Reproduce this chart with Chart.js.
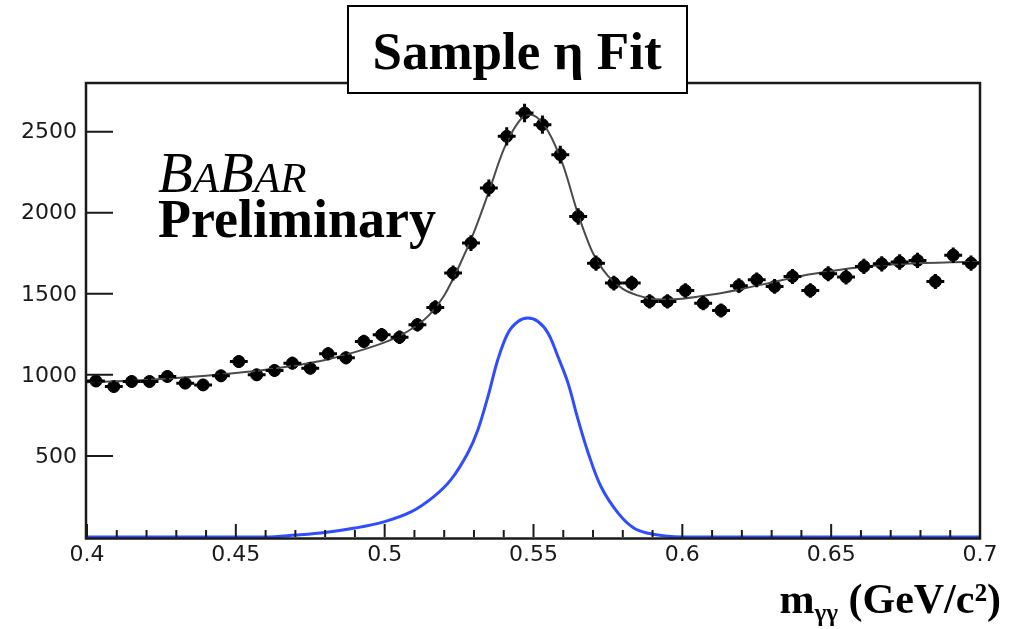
<!DOCTYPE html>
<html>
<head>
<meta charset="utf-8">
<script src="https://cdn.jsdelivr.net/npm/chart.js@4"></script>
<style>
  html, body { margin: 0; padding: 0; background: #fff; }
</style>
</head>
<body>
<canvas id="myChart" width="1011" height="629"></canvas>
<script>
// centros de los bins (anchura 0.006 GeV/c2)
const binCenters = [0.403, 0.409, 0.415, 0.421, 0.427, 0.433, 0.439, 0.445, 0.451, 0.457,
  0.463, 0.469, 0.475, 0.481, 0.487, 0.493, 0.499, 0.505, 0.511, 0.517,
  0.523, 0.529, 0.535, 0.541, 0.547, 0.553, 0.559, 0.565, 0.571, 0.577,
  0.583, 0.589, 0.595, 0.601, 0.607, 0.613, 0.619, 0.625, 0.631, 0.637,
  0.643, 0.649, 0.655, 0.661, 0.667, 0.673, 0.679, 0.685, 0.691, 0.697];
// entradas por bin
const counts = [962, 928, 959, 959, 990, 949, 938, 994, 1082, 1000,
  1027, 1072, 1041, 1130, 1105, 1206, 1247, 1232, 1309, 1416,
  1628, 1813, 2152, 2471, 2615, 2543, 2358, 1977, 1689, 1566,
  1566, 1453, 1453, 1520, 1442, 1397, 1550, 1586, 1545, 1607,
  1520, 1623, 1603, 1669, 1685, 1696, 1706, 1576, 1738, 1689];
const binHalf = 0.003;

// curva del ajuste total (gris)
const fitX = [0.400, 0.410, 0.420, 0.430, 0.440, 0.450, 0.460, 0.470, 0.480, 0.490,
  0.500, 0.505, 0.510, 0.515, 0.520, 0.525, 0.530, 0.535, 0.540, 0.545,
  0.548, 0.551, 0.555, 0.560, 0.565, 0.570, 0.575, 0.580, 0.585, 0.590,
  0.595, 0.600, 0.610, 0.620, 0.630, 0.640, 0.650, 0.660, 0.670, 0.680,
  0.690, 0.700];
const fitY = [955, 960, 968, 980, 995, 1012, 1032, 1058, 1092, 1140,
  1200, 1240, 1295, 1370, 1490, 1670, 1880, 2130, 2390, 2560,
  2605, 2590, 2500, 2290, 1990, 1750, 1610, 1530, 1490, 1468,
  1465, 1470, 1495, 1530, 1570, 1610, 1640, 1665, 1680, 1690,
  1694, 1696];

// componente de senal (azul)
const sigX = [0.400, 0.460, 0.470, 0.480, 0.490, 0.500, 0.509, 0.5165, 0.5222, 0.5279,
  0.5313, 0.5347, 0.538, 0.5414, 0.5448, 0.5481, 0.5515, 0.5549, 0.5582, 0.5616,
  0.565, 0.5684, 0.5727, 0.5785, 0.5838, 0.5886, 0.595, 0.600, 0.700];
const sigY = [0, 0, 12, 28, 55, 95, 156, 249, 352, 517,
  660, 866, 1093, 1257, 1329, 1350, 1329, 1257, 1113, 949,
  722, 517, 310, 146, 54, 23, 5, 0, 0];

const xTickLabels = ['0.4', '0.45', '0.5', '0.55', '0.6', '0.65', '0.7'];
const yTickValues = [500, 1000, 1500, 2000, 2500];

const toPts = (xs, ys) => xs.map((v, i) => ({ x: v, y: ys[i] }));
const tickFont = '22px "DejaVu Sans"';

// dibuja marco, marcas de los ejes, barras de error y textos
const decor = {
  id: 'decor',
  afterDatasetsDraw(chart) {
    const { ctx, scales: { x, y }, chartArea } = chart;
    ctx.save();
    ctx.strokeStyle = '#000';
    ctx.lineWidth = 3;
    binCenters.forEach((c, i) => {
      const px = x.getPixelForValue(c);
      const py = y.getPixelForValue(counts[i]);
      const e = Math.sqrt(counts[i]);
      ctx.beginPath();
      ctx.moveTo(Math.max(x.getPixelForValue(c - binHalf), chartArea.left), py);
      ctx.lineTo(x.getPixelForValue(c + binHalf), py);
      ctx.moveTo(px, y.getPixelForValue(counts[i] + e) - 1);
      ctx.lineTo(px, y.getPixelForValue(counts[i] - e) + 1);
      ctx.stroke();
    });
    ctx.restore();
  },
  afterDraw(chart) {
    const { ctx, scales: { x, y }, chartArea: a } = chart;
    ctx.save();
    // marco
    ctx.strokeStyle = '#1a1a1a';
    ctx.lineWidth = 2.5;
    ctx.strokeRect(a.left - 1, a.top, a.right - a.left + 1, a.bottom - a.top + 1.5);
    // marcas eje x
    ctx.lineWidth = 2;
    ctx.beginPath();
    for (let i = 0; i <= 30; i++) {
      const px = x.getPixelForValue(0.4 + i * 0.01);
      const len = i % 5 === 0 ? 13 : 7;
      ctx.moveTo(px, a.bottom);
      ctx.lineTo(px, a.bottom - len);
    }
    // marcas eje y
    yTickValues.forEach(v => {
      const py = y.getPixelForValue(v);
      ctx.moveTo(a.left, py);
      ctx.lineTo(a.left + 26, py);
    });
    ctx.stroke();
    // etiquetas eje y
    ctx.fillStyle = '#1a1a1a';
    ctx.font = tickFont;
    ctx.textAlign = 'right';
    ctx.textBaseline = 'middle';
    yTickValues.forEach(v => {
      ctx.fillText(String(v), a.left - 10, y.getPixelForValue(v) + 1);
    });

    // caja del titulo
    ctx.fillStyle = '#fff';
    ctx.fillRect(348, 6, 339, 87);
    ctx.strokeStyle = '#000';
    ctx.lineWidth = 2;
    ctx.strokeRect(348, 6, 339, 87);
    ctx.fillStyle = '#000';
    ctx.textAlign = 'center';
    ctx.textBaseline = 'alphabetic';
    ctx.font = 'bold 53px "Liberation Serif"';
    ctx.fillText('Sample η Fit', 517, 69);

    // logo BABAR
    ctx.textAlign = 'left';
    let bx = 158;
    [['B', 57], ['A', 43], ['B', 57], ['A', 43], ['R', 43]].forEach(([ch, sz]) => {
      ctx.font = 'italic ' + sz + 'px "Liberation Serif"';
      ctx.fillText(ch, bx, 192);
      bx += ctx.measureText(ch).width;
    });
    ctx.font = 'bold 54px "Liberation Serif"';
    ctx.fillText('Preliminary', 158, 237);

    // titulo eje x
    const big = 'bold 42px "Liberation Serif"';
    const small = 'bold 25px "Liberation Serif"';
    ctx.font = big;
    const w1 = ctx.measureText('m').width;
    const w3 = ctx.measureText(' (GeV/c²)').width;
    ctx.font = small;
    const w2 = ctx.measureText('γγ').width;
    const tx = 1001 - (w1 + w2 + w3);
    ctx.font = big;
    ctx.fillText('m', tx, 613);
    ctx.font = small;
    ctx.fillText('γγ', tx + w1, 621);
    ctx.font = big;
    ctx.fillText(' (GeV/c²)', tx + w1 + w2, 613);
    ctx.restore();
  }
};

const ctx = document.getElementById('myChart');
new Chart(ctx, {
  type: 'scatter',
  data: {
    datasets: [
      {
        label: 'signal',
        data: toPts(sigX, sigY),
        showLine: true,
        borderColor: '#2f4dff',
        borderWidth: 3,
        pointRadius: 0,
        tension: 0.35,
        clip: false
      },
      {
        label: 'fit',
        data: toPts(fitX, fitY),
        showLine: true,
        borderColor: '#4a4a4a',
        borderWidth: 2,
        pointRadius: 0,
        cubicInterpolationMode: 'monotone'
      },
      {
        label: 'data',
        data: toPts(binCenters, counts),
        pointRadius: 6,
        pointBackgroundColor: '#000',
        pointBorderColor: '#000',
        pointBorderWidth: 1
      }
    ]
  },
  options: {
    responsive: false,
    animation: false,
    events: [],
    layout: { padding: { top: 83, right: 31, left: 0, bottom: 0 } },
    plugins: { legend: { display: false }, tooltip: { enabled: false } },
    scales: {
      x: {
        type: 'linear',
        min: 0.4,
        max: 0.7,
        afterFit: s => { s.height = 92; },
        grid: { display: false, drawTicks: false },
        border: { display: false },
        ticks: {
          stepSize: 0.05,
          autoSkip: false,
          maxRotation: 0,
          padding: 5,
          color: '#1a1a1a',
          font: { family: 'DejaVu Sans', size: 22 },
          callback: (v) => {
            const i = Math.round((v - 0.4) / 0.05);
            return xTickLabels[i];
          }
        }
      },
      y: {
        type: 'linear',
        min: 0,
        max: 2800,
        afterFit: s => { s.width = 87; },
        grid: { display: false, drawTicks: false },
        border: { display: false },
        ticks: { display: false, stepSize: 500 }
      }
    }
  },
  plugins: [decor]
});
</script>
</body>
</html>
